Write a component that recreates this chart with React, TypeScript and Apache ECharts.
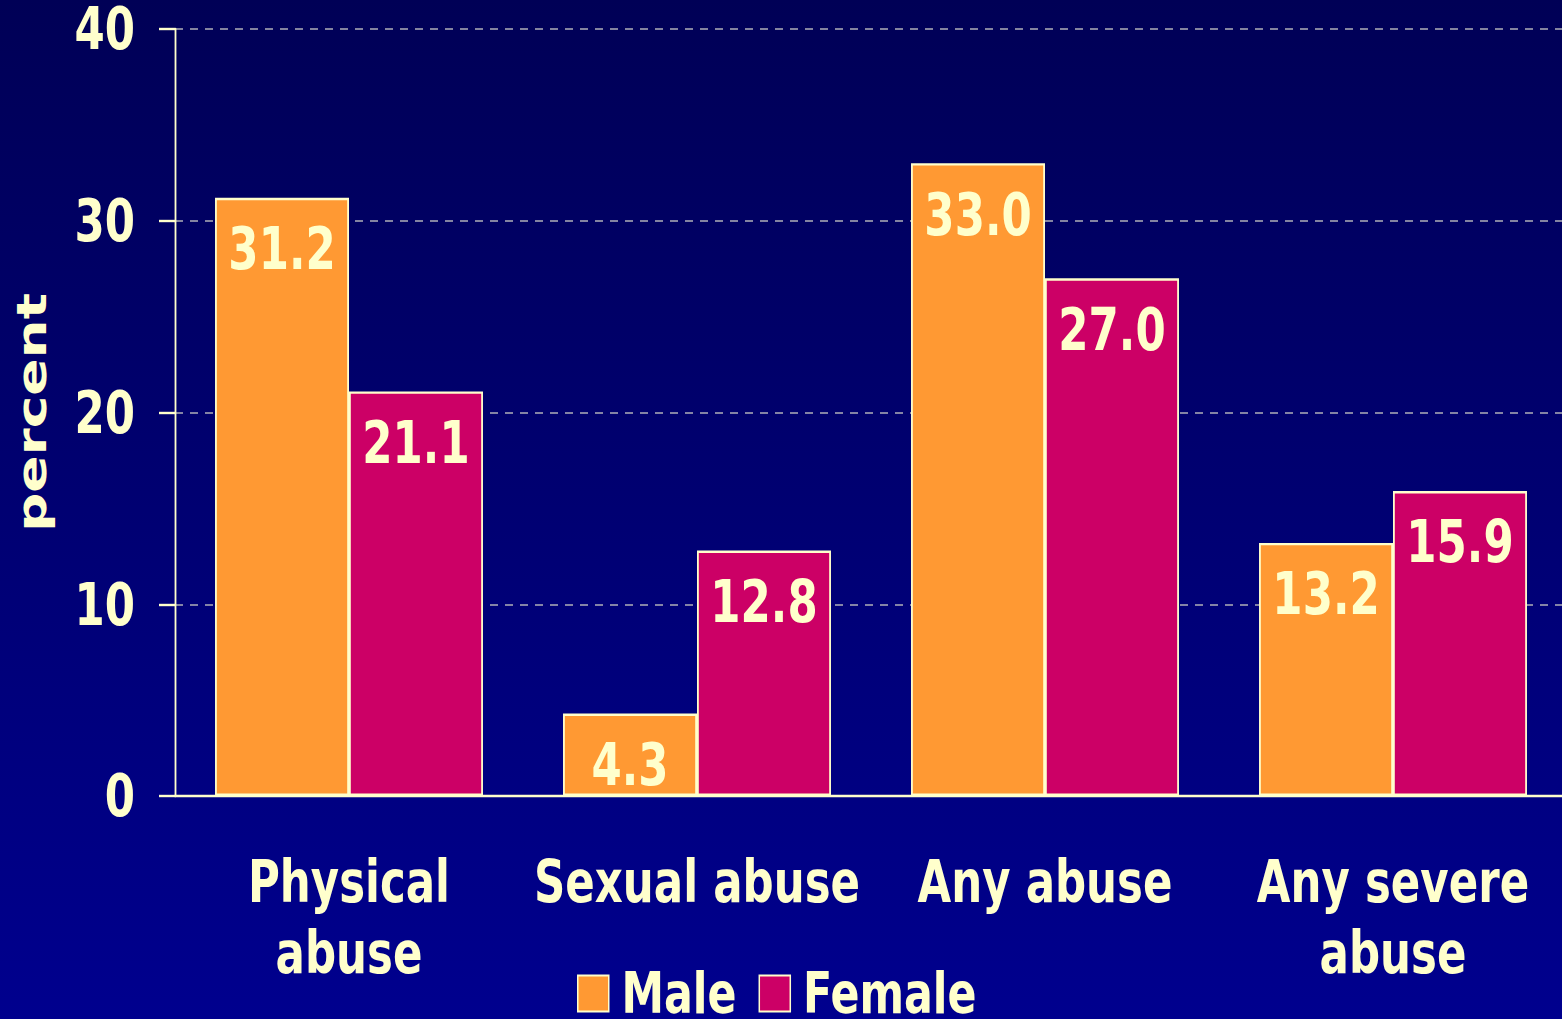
import React, { useEffect, useRef } from "react";
import * as echarts from "echarts";

const categories = ["Physical\nabuse", "Sexual abuse", "Any abuse", "Any severe\nabuse"];
const maleValues = [31.2, 4.3, 33.0, 13.2];
const femaleValues = [21.1, 12.8, 27.0, 15.9];
const seriesNames = ["Male", "Female"];

// The reference's lettering is a narrow bold sans; DejaVu Sans Bold is drawn
// and the whole chart is compressed horizontally by SX to give the same look.
const SX = 0.75;
const W = 1562;
const H = 1019;
const FONT = "'DejaVu Sans', Verdana, sans-serif";
const TEXT = "#FFFFCC";
const hx = (v: number) => v / SX;

export default function App() {
  const ref = useRef<HTMLDivElement>(null);
  useEffect(() => {
    const chart = echarts.init(ref.current!, undefined, { renderer: "svg" });
    const labelCfg = {
      show: true,
      position: "insideTop" as const,
      distance: 22,
      color: TEXT,
      fontFamily: FONT,
      fontWeight: "bold" as const,
      fontSize: 58,
      formatter: (p: any) => Number(p.value).toFixed(1),
    };
    chart.setOption({
      animation: false,
      backgroundColor: new echarts.graphic.LinearGradient(0, 0, 0, 1, [
        { offset: 0, color: "#000056" },
        { offset: 1, color: "#00008E" },
      ]),
      textStyle: { fontFamily: FONT },
      grid: {
        left: hx(175),
        top: 29,
        width: hx(1392),
        height: 767,
        containLabel: false,
        outerBoundsMode: "none",
      },
      legend: {
        left: hx(577),
        top: 965,
        padding: 0,
        itemWidth: hx(31),
        itemHeight: 36,
        itemGap: hx(22),
        icon: "rect",
        data: seriesNames,
        textStyle: {
          color: TEXT,
          fontSize: 57,
          lineHeight: 36,
          fontWeight: "bold",
          fontFamily: FONT,
          padding: [0, 0, 0, hx(9)],
        },
      },
      xAxis: {
        type: "category",
        data: categories,
        axisLine: { show: true, lineStyle: { color: TEXT, width: 2.4 } },
        axisTick: { show: false },
        axisLabel: {
          color: TEXT,
          fontSize: 58,
          fontWeight: "bold",
          fontFamily: FONT,
          lineHeight: 71,
          margin: 50,
          interval: 0,
        },
      },
      yAxis: {
        type: "value",
        min: 0,
        max: 40,
        interval: 10,
        name: "percent",
        nameLocation: "middle",
        nameGap: 164,
        nameRotate: 90,
        nameTextStyle: { color: TEXT, fontSize: 55, fontWeight: "bold", fontFamily: FONT },
        axisLine: { show: true, lineStyle: { color: TEXT, width: 2.4 } },
        axisTick: { show: true, length: hx(16), lineStyle: { color: TEXT, width: 2.4 } },
        axisLabel: {
          color: TEXT,
          fontSize: 58,
          lineHeight: 46,
          fontWeight: "bold",
          fontFamily: FONT,
          margin: hx(40),
        },
        splitLine: { show: true, lineStyle: { color: "#B0B0B8", width: 1.6, type: [hx(8), hx(7)] } },
      },
      series: [
        {
          name: seriesNames[0],
          type: "bar",
          data: maleValues,
          barGap: "0%",
          barCategoryGap: "23%",
          itemStyle: { color: "#FF9933", borderColor: TEXT, borderWidth: 2.4 },
          label: labelCfg,
        },
        {
          name: seriesNames[1],
          type: "bar",
          data: femaleValues,
          itemStyle: { color: "#CC0066", borderColor: TEXT, borderWidth: 2.4 },
          label: labelCfg,
        },
      ],
    });
    return () => chart.dispose();
  }, []);
  return (
    <div style={{ position: "absolute", left: 0, top: 0, width: W, height: H, overflow: "hidden" }}>
      <div
        ref={ref}
        style={{
          width: W / SX,
          height: H,
          transform: `scaleX(${SX})`,
          transformOrigin: "0 0",
        }}
      />
    </div>
  );
}
